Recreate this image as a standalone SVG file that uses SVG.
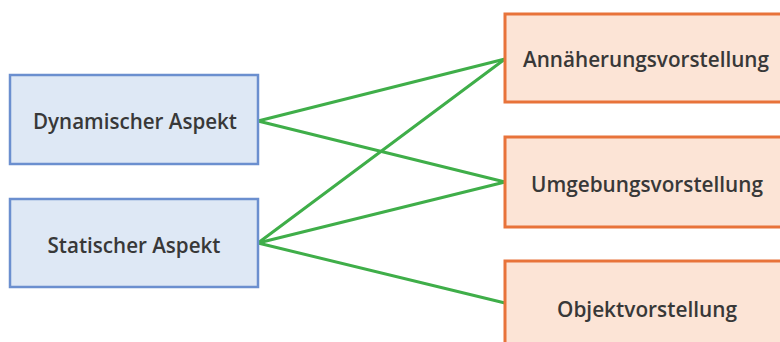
<svg xmlns="http://www.w3.org/2000/svg" width="780" height="342" viewBox="0 0 780 342">
<style>
.l{fill:#dee8f5;stroke:#6b8fcf;stroke-width:2.5}
.r{fill:#fce4d6;stroke:#e8733a;stroke-width:3}
.t{font-family:"Open Sans","Liberation Sans",sans-serif;font-size:21px;font-weight:600;fill:#383838;text-anchor:middle}
.c{stroke:#3fae49;stroke-width:3;fill:none;stroke-linecap:round}
</style>
<rect width="780" height="342" fill="#ffffff"/>
<g id="connectors">
<line class="c" x1="258" y1="121" x2="505" y2="59"/>
<line class="c" x1="258" y1="121" x2="505" y2="182"/>
<line class="c" x1="258" y1="243" x2="505" y2="59"/>
<line class="c" x1="258" y1="243" x2="505" y2="182"/>
<line class="c" x1="258" y1="243" x2="505" y2="303"/>
</g>
<g id="dynamisch">
<rect class="l" x="10" y="75" width="248" height="89"/>
<text class="t" x="135" y="129" textLength="204" lengthAdjust="spacingAndGlyphs">Dynamischer Aspekt</text>
</g>
<g id="statisch">
<rect class="l" x="10" y="199" width="248" height="88"/>
<text class="t" x="134" y="253" textLength="173" lengthAdjust="spacingAndGlyphs">Statischer Aspekt</text>
</g>
<g id="annaeherung">
<rect class="r" x="505" y="14" width="290" height="88"/>
<text class="t" x="646" y="67" textLength="246" lengthAdjust="spacingAndGlyphs">Annäherungsvorstellung</text>
</g>
<g id="umgebung">
<rect class="r" x="505" y="137" width="290" height="90"/>
<text class="t" x="647" y="192" textLength="232" lengthAdjust="spacingAndGlyphs">Umgebungsvorstellung</text>
</g>
<g id="objekt">
<rect class="r" x="505" y="261" width="290" height="95"/>
<text class="t" x="647" y="317" textLength="180" lengthAdjust="spacingAndGlyphs">Objektvorstellung</text>
</g>
</svg>
